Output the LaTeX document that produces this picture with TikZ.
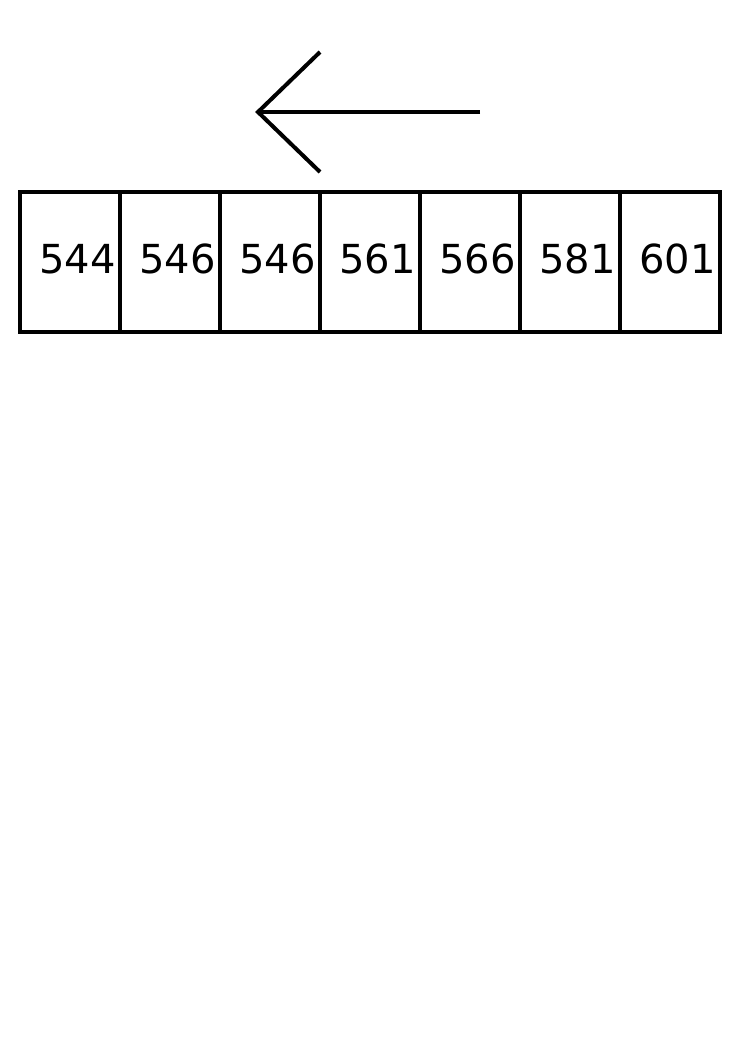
\documentclass[tikz,border=0pt]{standalone}
\usepackage{fontspec}
\setmainfont{DejaVu Sans}
\begin{document}
\begin{tikzpicture}[x=1pt,y=-1pt,
  cellbox/.style={draw=black,line width=4pt,minimum width=100pt,minimum height=140pt,inner sep=0pt,outer sep=0pt,anchor=north west},
  celltext/.style={inner sep=0pt,anchor=base west,font=\fontsize{40}{48}\selectfont},
  arrowline/.style={draw=black,line width=4pt}]
\useasboundingbox (0,0) rectangle (745,1053);
\foreach \i/\v in {0/544,1/546,2/546,3/561,4/566,5/581,6/601}{
  \node[cellbox] (c\i) at (20+100*\i,192) {};
  \node[celltext] (t\i) at (20+100*\i+19,273) {\v};
}
\coordinate (tail) at (480,112);
\coordinate (tip) at (258,112);
\coordinate (wa) at (320,52);
\coordinate (wb) at (320,172);
\draw[arrowline] (tail) -- (tip);
\draw[arrowline,line join=miter] (wa) -- (tip) -- (wb);
\end{tikzpicture}
\end{document}
